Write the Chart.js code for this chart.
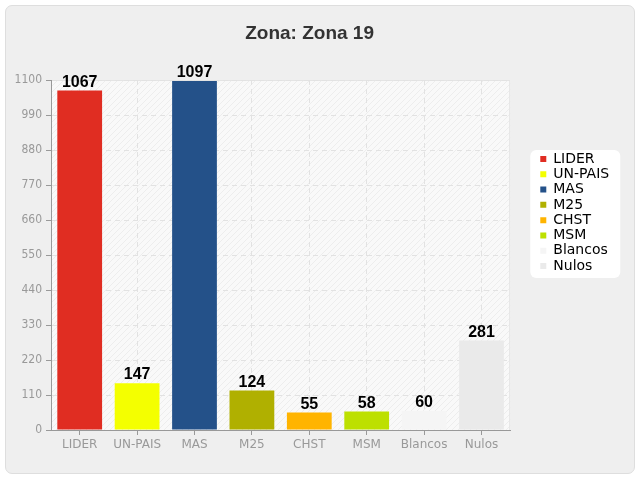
<!DOCTYPE html>
<html>
<head>
<meta charset="utf-8">
<script src="https://cdn.jsdelivr.net/npm/chart.js@4.4.0/dist/chart.umd.min.js"></script>
<style>
    html, body { margin: 0; padding: 0; background: #ffffff; }
    #card {
        position: absolute; left: 5px; top: 5px; width: 628px; height: 467px;
        background: #efefef; border: 1px solid #dedede; border-radius: 7px;
    }
    #chart { position: absolute; left: 0; top: 0; }
</style>
</head>
<body>
<div id="card"></div>
<canvas id="chart" width="640" height="480"></canvas>
<script>
const categories = ['LIDER', 'UN-PAIS', 'MAS', 'M25', 'CHST', 'MSM', 'Blancos', 'Nulos'];
const votes = [1067, 147, 1097, 124, 55, 58, 60, 281];
const barColors = ['#e02d22', '#f4ff00', '#245189', '#b0b000', '#ffb400', '#bde000', '#f5f5f5', '#eaeaea'];
const yTicks = [0, 110, 220, 330, 440, 550, 660, 770, 880, 990, 1100];

function hatchPattern(ctx) {
    const c = document.createElement('canvas');
    c.width = 6; c.height = 6;
    const p = c.getContext('2d');
    p.fillStyle = '#f9f9f9';
    p.fillRect(0, 0, 6, 6);
    p.strokeStyle = '#ededed';
    p.lineWidth = 1;
    p.beginPath();
    p.moveTo(0, 6); p.lineTo(6, 0);
    p.moveTo(-3, 3); p.lineTo(3, -3);
    p.moveTo(3, 9); p.lineTo(9, 3);
    p.stroke();
    return ctx.createPattern(c, 'repeat');
}

// hatched plot background, light frame and the white legend panel
const plotBackground = {
    id: 'plotBackground',
    beforeDraw(chart) {
        const { ctx, chartArea: a } = chart;
        ctx.save();
        ctx.fillStyle = hatchPattern(ctx);
        ctx.fillRect(a.left, a.top, a.right - a.left, a.bottom - a.top);
        ctx.strokeStyle = '#e4e4e4';
        ctx.lineWidth = 1;
        ctx.strokeRect(a.left + 0.5, a.top + 0.5, a.right - a.left - 1, a.bottom - a.top);
        const boxes = chart.legend.legendHitBoxes;
        if (boxes && boxes.length) {
            const first = boxes[0], last = boxes[boxes.length - 1];
            const x = first.left - 10, y = first.top - 2;
            const w = 90, h = last.top + last.height + 5 - y;
            ctx.fillStyle = '#ffffff';
            ctx.beginPath();
            ctx.roundRect(x, y, w, h, 6);
            ctx.fill();
        }
        ctx.restore();
    }
};

const barLabels = {
    id: 'barLabels',
    afterDatasetsDraw(chart) {
        const { ctx } = chart;
        const meta = chart.getDatasetMeta(0);
        ctx.save();
        ctx.fillStyle = '#000000';
        ctx.font = 'bold 16px "Liberation Sans", Arial, sans-serif';
        ctx.textAlign = 'center';
        ctx.textBaseline = 'alphabetic';
        meta.data.forEach((bar, i) => {
            ctx.fillText(String(votes[i]), bar.x, bar.y - 4);
        });
        ctx.restore();
    }
};

new Chart(document.getElementById('chart'), {
    type: 'bar',
    data: {
        labels: categories,
        datasets: [{
            label: 'Votos',
            data: votes,
            backgroundColor: barColors,
            borderWidth: 0,
            categoryPercentage: 1,
            barPercentage: 0.78
        }]
    },
    options: {
        responsive: false,
        animation: false,
        events: [],
        layout: { padding: { left: 0, right: 20.8, top: 0, bottom: 0 } },
        plugins: {
            title: {
                display: true,
                text: 'Zona: Zona 19',
                color: '#333333',
                font: { family: '"Liberation Sans", Arial, sans-serif', size: 19, weight: 'bold', lineHeight: 1.2 },
                padding: { top: 22.6, bottom: 34.6 }
            },
            legend: {
                display: true,
                position: 'right',
                align: 'start',
                title: { display: true, text: '', font: { size: 10, lineHeight: 1.2 }, padding: { top: 138.7, bottom: 0 } },
                labels: {
                    color: '#000000',
                    font: { family: '"DejaVu Sans", sans-serif', size: 14 },
                    boxWidth: 6,
                    boxHeight: 6,
                    padding: 1.29,
                    generateLabels(chart) {
                        return categories.map((c, i) => ({
                            text: c,
                            fillStyle: barColors[i],
                            strokeStyle: barColors[i],
                            fontColor: '#000000',
                            lineWidth: 0,
                            hidden: false,
                            index: i
                        }));
                    }
                }
            },
            tooltip: { enabled: false }
        },
        scales: {
            x: {
                afterFit(scale) { scale.height = 50; },
                grid: {
                    offset: false,
                    color: '#e2e2e2',
                    tickColor: '#999999',
                    tickLength: 5,
                    tickBorderDash: []
                },
                border: { display: true, color: '#999999', width: 1, dash: [5, 4] },
                ticks: {
                    color: '#999999',
                    padding: 3,
                    font: { family: '"DejaVu Sans", sans-serif', size: 12 }
                }
            },
            y: {
                min: 0,
                max: 1100,
                afterFit(scale) { scale.width = 51; },
                afterBuildTicks(scale) { scale.ticks = yTicks.map(v => ({ value: v })); },
                grid: {
                    color: '#e2e2e2',
                    tickColor: '#999999',
                    tickLength: 5,
                    tickBorderDash: []
                },
                border: { display: true, color: '#999999', width: 1, dash: [5, 4] },
                ticks: {
                    color: '#999999',
                    padding: 4,
                    callback: v => String(v),
                    font: { family: '"DejaVu Sans Condensed", "DejaVu Sans", sans-serif', size: 12 }
                }
            },
            // empty spacer between the plot and the legend
            gap: {
                type: 'linear',
                position: 'right',
                display: true,
                afterFit(scale) { scale.width = 28.8; },
                grid: { display: false },
                border: { display: false },
                ticks: { display: false }
            }
        }
    },
    plugins: [plotBackground, barLabels]
});
</script>
</body>
</html>
